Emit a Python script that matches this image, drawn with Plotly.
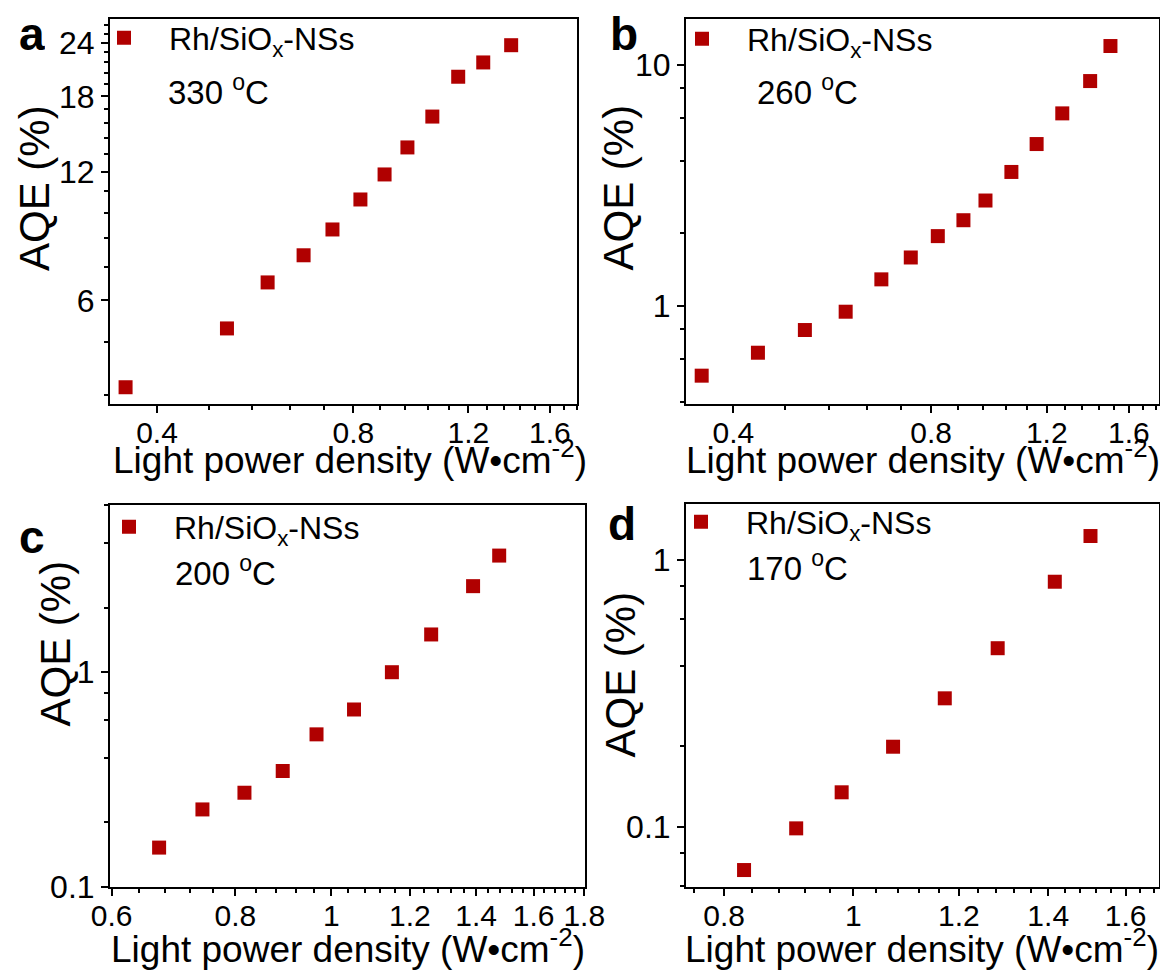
import plotly.graph_objects as go

FONT = "Liberation Sans, Arial, Helvetica, sans-serif"
RED = "#B00000"
SERIES_NAME = "Rh/SiO<sub>x</sub>-NSs"
XTITLE = "Light power density (W•cm<sup>-2</sup>)"
YTITLE = "AQE (%)"

# ---------------- data ----------------
a_x = [0.358, 0.512, 0.591, 0.671, 0.743, 0.820, 0.893, 0.968, 1.057, 1.158, 1.265, 1.396]
a_y = [3.76, 5.16, 6.61, 7.65, 8.79, 10.33, 11.82, 13.67, 16.14, 20.0, 21.6, 23.7]

b_x = [0.358, 0.436, 0.514, 0.593, 0.672, 0.745, 0.819, 0.896, 0.968, 1.060, 1.158, 1.267, 1.397, 1.500]
b_y = [0.514, 0.640, 0.795, 0.947, 1.29, 1.59, 1.95, 2.27, 2.74, 3.60, 4.70, 6.30, 8.58, 11.99]

c_x = [0.670, 0.741, 0.817, 0.893, 0.966, 1.054, 1.151, 1.261, 1.390, 1.477]
c_y = [0.152, 0.229, 0.274, 0.346, 0.513, 0.670, 1.00, 1.50, 2.52, 3.50]

d_x = [0.828, 0.906, 0.980, 1.071, 1.171, 1.283, 1.416, 1.506]
d_y = [0.0688, 0.0986, 0.1346, 0.1995, 0.303, 0.467, 0.829, 1.23]

temps = ["330 <sup>o</sup>C", "260 <sup>o</sup>C", "200 <sup>o</sup>C", "170 <sup>o</sup>C"]
letters = ["a", "b", "c", "d"]

# tick labels
a_xticks = [0.4, 0.8, 1.2, 1.6]
a_xticktext = ["0.4", "0.8", "1.2", "1.6"]
a_yticks = [6, 12, 18, 24]
a_yticktext = ["6", "12", "18", "24"]
b_xticks = [0.4, 0.8, 1.2, 1.6]
b_xticktext = ["0.4", "0.8", "1.2", "1.6"]
b_yticks = [1, 10]
b_yticktext = ["1", "10"]
c_xticks = [0.6, 0.8, 1.0, 1.2, 1.4, 1.6, 1.8]
c_xticktext = ["0.6", "0.8", "1", "1.2", "1.4", "1.6", "1.8"]
c_yticks = [0.1, 1]
c_yticktext = ["0.1", "1"]
d_xticks = [0.8, 1.0, 1.2, 1.4, 1.6]
d_xticktext = ["0.8", "1", "1.2", "1.4", "1.6"]
d_yticks = [0.1, 1]
d_yticktext = ["0.1", "1"]

# minor ticks
ab_xminor = [0.48, 0.56, 0.64, 0.72, 0.88, 0.96, 1.04, 1.12, 1.28, 1.36, 1.44, 1.52, 1.68, 1.76]
a_yminor = [3.6, 4.8, 7.2, 8.4, 9.6, 10.8, 13.2, 14.4, 15.6, 16.8, 19.2, 20.4, 21.6, 22.8, 25.2, 26.4]
b_yminor = [0.4, 0.6, 0.8, 2, 4, 6, 8]
c_xminor = [0.64, 0.68, 0.72, 0.76, 0.84, 0.88, 0.92, 0.96, 1.04, 1.08, 1.12, 1.16,
            1.24, 1.28, 1.32, 1.36, 1.44, 1.48, 1.52, 1.56, 1.64, 1.68, 1.72, 1.76]
c_yminor = [0.2, 0.4, 0.6, 0.8, 2, 4, 6]
d_xminor = [0.76, 0.84, 0.88, 0.92, 0.96, 1.04, 1.08, 1.12, 1.16, 1.24, 1.28, 1.32,
            1.36, 1.44, 1.48, 1.52, 1.56, 1.64, 1.68]
d_yminor = [0.06, 0.08, 0.2, 0.4, 0.6, 0.8]

# axis ranges (log10 units)
a_xrange = [-0.470, 0.2458]
a_yrange = [0.536, 1.436]
b_xrange = [-0.470, 0.250]
b_yrange = [-0.4066, 1.191]
c_xrange = [-0.2235, 0.2560]
c_yrange = [-1.002, 0.78]
d_xrange = [-0.1255, 0.2292]
d_yrange = [-1.226, 0.21]

# ---------------- layout geometry ----------------
# The page body has an 8px margin, so the figure is drawn 8px from the window's
# top-left corner; the figure is sized to fill the rest of the 1168x974 window.
OFF = 8
W, H = 1168 - OFF, 974 - OFF
def px_x(v):
    return (v - OFF) / W
def px_y(v):
    return 1 - (v - OFF) / H

panels = [
    dict(x=a_x, y=a_y, xt=a_xticks, xtt=a_xticktext, yt=a_yticks, ytt=a_yticktext,
         xm=ab_xminor, ym=a_yminor, xr=a_xrange, yr=a_yrange,
         dom_x=[px_x(110), px_x(577)], dom_y=[px_y(404), px_y(19)],
         xtitle=(350, 457), ytitle=(34, 188), legend=(79, 10.5), temp=(166, 90.5), letter=(17, 8.5)),
    dict(x=b_x, y=b_y, xt=b_xticks, xtt=b_xticktext, yt=b_yticks, ytt=b_yticktext,
         xm=ab_xminor, ym=b_yminor, xr=b_xrange, yr=b_yrange,
         dom_x=[px_x(686), px_x(1159)], dom_y=[px_y(404), px_y(19)],
         xtitle=(923, 457), ytitle=(617.5, 188), legend=(657, 11.5), temp=(755, 90.5), letter=(608, 8.5)),
    dict(x=c_x, y=c_y, xt=c_xticks, xtt=c_xticktext, yt=c_yticks, ytt=c_yticktext,
         xm=c_xminor, ym=c_yminor, xr=c_xrange, yr=c_yrange,
         dom_x=[px_x(110), px_x(585)], dom_y=[px_y(887), px_y(505)],
         xtitle=(348, 946), ytitle=(54.5, 643), legend=(84, 499.5), temp=(173, 570.5), letter=(17, 510.5)),
    dict(x=d_x, y=d_y, xt=d_xticks, xtt=d_xticktext, yt=d_yticks, ytt=d_yticktext,
         xm=d_xminor, ym=d_yminor, xr=d_xrange, yr=d_yrange,
         dom_x=[px_x(686), px_x(1159)], dom_y=[px_y(887), px_y(504)],
         xtitle=(922, 946), ytitle=(619.5, 675), legend=(656, 494.5), temp=(745, 565.5), letter=(606, 497.5)),
]

fig = go.Figure()
annotations = []
layout = {}

for i, p in enumerate(panels):
    n = "" if i == 0 else str(i + 1)
    leg = "legend" if i == 0 else f"legend{i + 1}"
    fig.add_trace(go.Scatter(
        x=p["x"], y=p["y"], mode="markers", name=SERIES_NAME,
        marker=dict(symbol="square", size=14, color=RED, line=dict(width=0)),
        xaxis=f"x{n}", yaxis=f"y{n}", legend=leg, showlegend=True,
    ))
    common = dict(
        type="log", showline=True, linewidth=2, linecolor="black", mirror=True,
        ticks="outside", ticklen=7, tickwidth=1.8, tickcolor="black",
        showgrid=False, zeroline=False, tickmode="array", automargin=False,
    )
    minor = dict(tickmode="array", ticks="outside", ticklen=4, tickwidth=1.5,
                 tickcolor="black", showgrid=False)
    xa = dict(common)
    xa.update(domain=p["dom_x"], range=p["xr"], tickvals=p["xt"], ticktext=p["xtt"],
              anchor=f"y{n}", ticklabelstandoff=-6,
              tickfont=dict(family=FONT, size=30, color="black"),
              minor=dict(minor, tickvals=p["xm"]))
    ya = dict(common)
    ya.update(domain=p["dom_y"], range=p["yr"], tickvals=p["yt"], ticktext=p["ytt"],
              anchor=f"x{n}",
              tickfont=dict(family=FONT, size=32, color="black"),
              minor=dict(minor, tickvals=p["ym"]))
    layout[f"xaxis{n}"] = xa
    layout[f"yaxis{n}"] = ya

    lx, ly = p["legend"]
    layout[leg] = dict(
        x=px_x(lx), y=px_y(ly), xanchor="left", yanchor="top",
        bgcolor="rgba(0,0,0,0)", borderwidth=0, itemwidth=80,
        font=dict(family=FONT, size=32, color="black"), itemsizing="trace",
    )

    tx, ty = p["xtitle"]
    annotations.append(dict(
        text=XTITLE, x=px_x(tx), y=px_y(ty), xref="paper", yref="paper",
        xanchor="center", yanchor="middle", showarrow=False,
        font=dict(family=FONT, size=37, color="black"),
    ))
    tx, ty = p["ytitle"]
    annotations.append(dict(
        text=YTITLE, textangle=-90, x=px_x(tx), y=px_y(ty), xref="paper", yref="paper",
        xanchor="center", yanchor="middle", showarrow=False,
        font=dict(family=FONT, size=42, color="black"),
    ))
    mx, my = p["temp"]
    annotations.append(dict(
        text=temps[i], x=px_x(mx), y=px_y(my), xref="paper", yref="paper",
        xanchor="left", yanchor="middle", showarrow=False,
        font=dict(family=FONT, size=33, color="black"),
    ))
    lx2, ly2 = p["letter"]
    annotations.append(dict(
        text=f"<b>{letters[i]}</b>", x=px_x(lx2), y=px_y(ly2), xref="paper", yref="paper",
        xanchor="left", yanchor="top", showarrow=False, height=48, valign="middle",
        font=dict(family=FONT, size=46, color="black"),
    ))

fig.update_layout(
    width=W, height=H, margin=dict(l=0, r=0, t=0, b=0, autoexpand=False),
    paper_bgcolor="white", plot_bgcolor="white",
    font=dict(family=FONT, color="black"),
    annotations=annotations,
    **layout,
)

fig.write_html("out.html")
